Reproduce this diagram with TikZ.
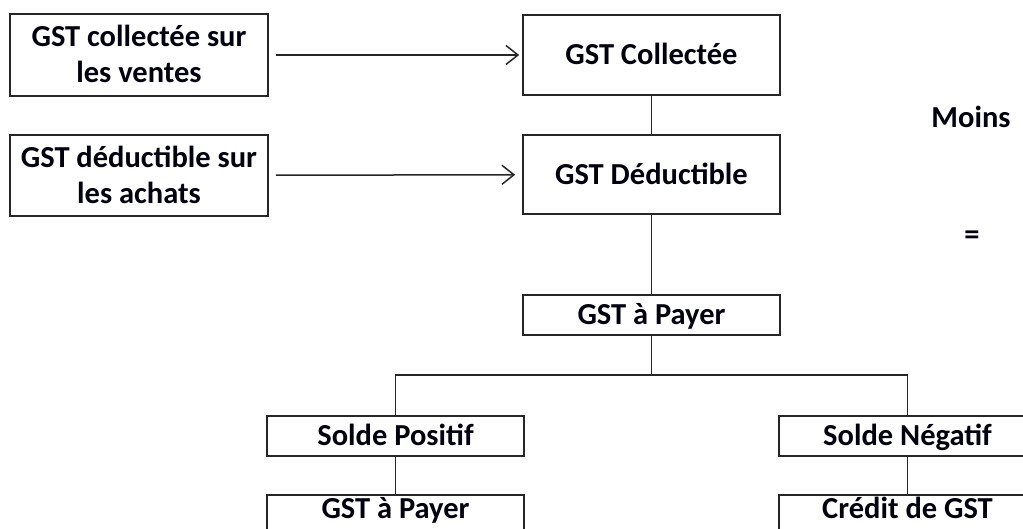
\documentclass[tikz,border=0pt]{standalone}
\usepackage{fontspec}
\setmainfont{Carlito}
\usetikzlibrary{arrows.meta}
\begin{document}
\begin{tikzpicture}[x=1pt,y=-1pt,
  txt/.style={font=\fontsize{30.5}{36}\selectfont\bfseries,text=black!85!blue!40!black},
  box/.style={txt,draw=black!85,line width=1.7pt,rectangle,inner sep=0pt,align=center,
    minimum width=257pt},
  one/.style={box,minimum height=40pt,text height=19.6pt,text depth=0pt},
  two/.style={box,text height=55.6pt,text depth=0pt},
  low/.style={box,minimum height=40pt,text height=19.6pt,text depth=12pt},
  conn/.style={line width=1.5pt,draw=black!85},
  arr/.style={conn,-{Straight Barb[length=12pt,width=19pt,line width=1.5pt]}}]
\useasboundingbox (0,0) rectangle (1023,529);
\clip (0,0) rectangle (1023,529);
\node[two,minimum width=258pt,minimum height=82pt] (src1) at (139,55) {GST collectée sur\\les ventes};
\node[two,minimum width=258pt,minimum height=81pt] (src2) at (139,175.5) {GST déductible sur\\les achats};
\node[one,minimum height=80pt] (coll) at (651.5,55) {GST Collectée};
\node[one,minimum height=79pt] (ded) at (651.5,174.5) {GST Déductible};
\node[one] (pay) at (651.5,315) {GST à Payer};
\node[one] (pos) at (395.5,436) {Solde Positif};
\node[one] (neg) at (907.5,436) {Solde Négatif};
\node[low] (payb) at (395.5,515) {GST à Payer};
\node[low] (cred) at (907.5,515) {Crédit de GST};
\node[txt] (moins) at (971,117) {Moins};
\node[txt] (eq) at (972,238) {=};
\coordinate (j) at (651.5,375);
\draw[arr,shorten <=7pt,shorten >=3pt] (src1) -- (coll);
\draw[arr,shorten <=7pt,shorten >=7pt] (src2) -- (ded);
\draw[conn] (coll) -- (ded);
\draw[conn] (ded) -- (pay);
\draw[conn] (pay) -- (j);
\draw[conn] (pos.north) |- (j) -| (neg.north);
\draw[conn] (pos) -- (payb);
\draw[conn] (neg) -- (cred);
\end{tikzpicture}
\end{document}
